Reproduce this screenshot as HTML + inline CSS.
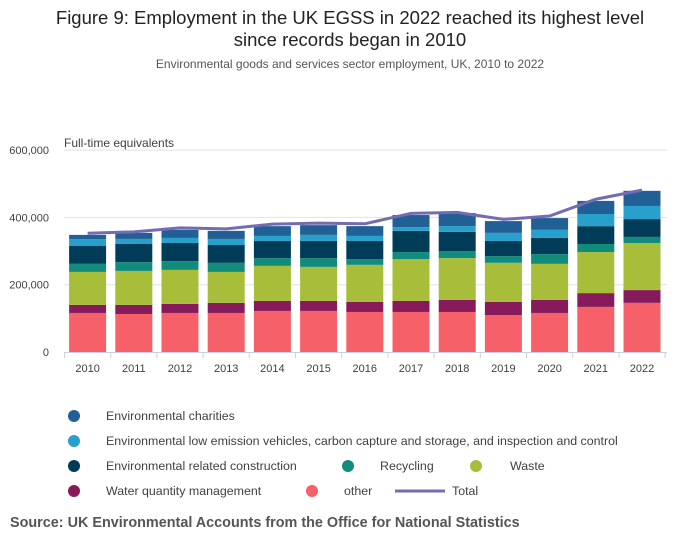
<!DOCTYPE html>
<html><head><meta charset="utf-8"><style>
body{margin:0;background:#fff;font-family:"Liberation Sans",sans-serif;}
#wrap{position:relative;width:700px;height:549px;overflow:hidden}
</style></head><body><div id="wrap">
<svg id="svg" width="700" height="549">
<text x="350" y="24" text-anchor="middle" font-size="18.5" fill="#222">Figure 9: Employment in the UK EGSS in 2022 reached its highest level</text>
<text x="350" y="46" text-anchor="middle" font-size="18.5" fill="#222">since records began in 2010</text>
<text x="350" y="68" text-anchor="middle" font-size="12" fill="#555">Environmental goods and services sector employment, UK, 2010 to 2022</text>
<text x="64" y="147" font-size="12" fill="#414042">Full-time equivalents</text>
<g id="grid"></g><g id="bars"></g><g id="line"></g><g id="axis"></g>
<g id="legend" font-size="12.4" fill="#414042"></g>
<text x="10" y="527" font-size="14.4" font-weight="bold" fill="#555">Source: UK Environmental Accounts from the Office for National Statistics</text>
</svg></div>
<script>
const years=["2010","2011","2012","2013","2014","2015","2016","2017","2018","2019","2020","2021","2022"];
const other=[116,113,116,116,122,122,119,119,119,110,116,134,146];
const water=[24,27,27,30,30,30,30,33,36,39,39,41,38];
const waste=[98,101,101,92,104,101,110,124,124,116,107,122,140];
const recycling=[24,26,26,27,23,26,17,21,21,20,29,24,18];
const construction=[53,54,54,53,51,51,54,63,57,45,48,53,53];
const lowEmission=[20,15,15,18,15,18,15,11,17,24,24,36,39];
const charities=[13,18,24,24,29,29,29,36,39,35,35,39,45];
const total=[353,357,369,366,380,383,381,412,415,394,404,454,481];
const yTicks=[0,200,400,600];
const seriesNames=["other","water","waste","recycling","construction","lowEmission","charities"];
const seriesData=[other,water,waste,recycling,construction,lowEmission,charities];
const colors=["#f66068","#871a5b","#a8bd3a","#118c7b","#003c57","#27a0cc","#206095"];
const NS="http://www.w3.org/2000/svg";
const x0=64.5,band=46.2,bw=37,y0=352,pxPer=67.3/200;
const xs=i=>x0+i*band+(band-bw)/2, xc=i=>x0+i*band+band/2, ys=v=>y0-v*pxPer;
function mk(tag,attrs,parent){const e=document.createElementNS(NS,tag);for(const k in attrs)e.setAttribute(k,attrs[k]);parent.appendChild(e);return e;}
const G=id=>document.getElementById(id);
yTicks.forEach(t=>{
 if(t>0){const l=mk('line',{x1:64,x2:667,y1:ys(t),y2:ys(t),stroke:'#e2e2e2','stroke-width':1},G('grid'));
 
 }
 const tx=mk('text',{x:49,y:ys(t)+4,'text-anchor':'end','font-size':11,fill:'#414042'},G('axis'));
 tx.textContent=t===0?'0':(t*1000).toLocaleString('en-US');
 
 
});
years.forEach((yr,i)=>{
 let acc=0;
 seriesData.forEach((s,j)=>{
  const r=mk('rect',{x:xs(i),y:ys(acc+s[i]),width:bw,height:s[i]*pxPer,fill:colors[j]},G('bars'));
  
  
  acc+=s[i];
 });
 const t=mk('text',{x:xc(i),y:372,'text-anchor':'middle','font-size':11,fill:'#414042'},G('axis'));
 t.textContent=yr;
 
 
});
for(let i=0;i<=years.length;i++){const tk=mk('line',{x1:x0+i*band,x2:x0+i*band,y1:352,y2:358,stroke:'#c8d1e4'},G('axis'));
 
 }
const ax=mk('line',{x1:64,x2:667,y1:352.5,y2:352.5,stroke:'#c8d1e4'},G('axis'));


const pl=mk('polyline',{points:total.map((v,i)=>xc(i)+','+ys(v)).join(' '),fill:'none',stroke:'#746cb1','stroke-width':3},G('line'));


const leg=[["circle",74,416,"#206095","Environmental charities",106],
["circle",74,441,"#27a0cc","Environmental low emission vehicles, carbon capture and storage, and inspection and control",106],
["circle",74,466,"#003c57","Environmental related construction",106],
["circle",348,466,"#118c7b","Recycling",380],
["circle",476,466,"#a8bd3a","Waste",510],
["circle",74,491,"#871a5b","Water quantity management",106],
["circle",312,491,"#f66068","other",344],
["line",395,491,"#746cb1","Total",452]];
leg.forEach(l=>{
 const g=mk('g',{},G('legend'));
 
 
 if(l[0]==='circle')mk('circle',{cx:l[1],cy:l[2],r:6,fill:l[3]},g);
 else mk('line',{x1:l[1],x2:l[1]+50,y1:l[2],y2:l[2],stroke:l[3],'stroke-width':3},g);
 const t=mk('text',{x:l[5],y:l[2]+4},g);t.textContent=l[4];
});
</script></body></html>
